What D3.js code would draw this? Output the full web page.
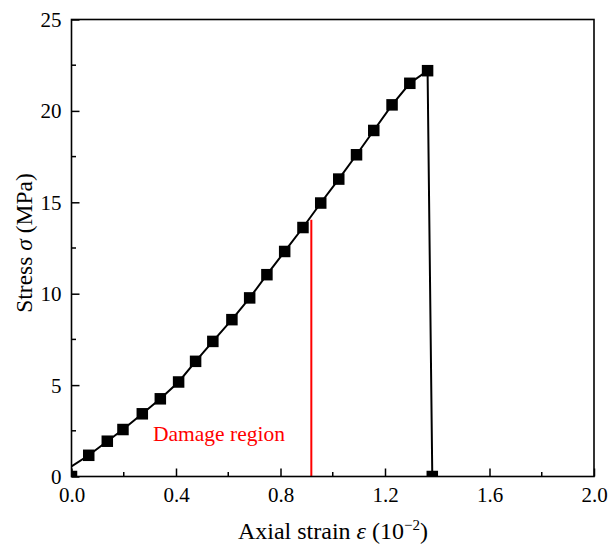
<!DOCTYPE html>
<html><head><meta charset="utf-8">
<script src="https://cdn.jsdelivr.net/npm/d3@7"></script>
<style>body{margin:0;background:#fff}svg{display:block}text{font-family:"Liberation Serif","Times New Roman",serif}</style>
</head><body><svg id="c" width="609" height="551"></svg>
<script>
// Data
const strain = [0, 0.066, 0.137, 0.197, 0.271, 0.340, 0.410, 0.475, 0.541, 0.614, 0.682, 0.748, 0.816, 0.886, 0.954, 1.023, 1.091, 1.157, 1.227, 1.295, 1.363, 1.381];
const stress = [0, 1.16, 1.93, 2.57, 3.43, 4.25, 5.17, 6.30, 7.39, 8.58, 9.77, 11.04, 12.31, 13.62, 14.96, 16.27, 17.60, 18.93, 20.33, 21.51, 22.20, 0];
const lineStart = [0, 0.55];
const damageStrain = 0.918, damageTop = 14.04;
const xTicks = [0, 0.4, 0.8, 1.2, 1.6, 2.0];
const yTicks = [0, 5, 10, 15, 20, 25];

const svg = d3.select("#c");
const L = 71.5, R = 594, T = 19.5, B = 476.5;
const x = d3.scaleLinear().domain([0, 2]).range([L, R]);
const y = d3.scaleLinear().domain([0, 25]).range([B, T]);

svg.append("defs").append("clipPath").attr("id","clip")
  .append("rect").attr("x",L).attr("y",T).attr("width",R-L).attr("height",B-T);

// red damage line
svg.append("line").attr("x1",x(damageStrain)).attr("x2",x(damageStrain))
  .attr("y1",y(damageTop)).attr("y2",y(0)).attr("stroke","#ff0000").attr("stroke-width",2);
svg.append("text").attr("x",153).attr("y",441).attr("fill","#ff0000")
  .attr("font-size",21.5).text("Damage region");

const pts = strain.map((s,i)=>[s, stress[i]]);
const linePts = [lineStart].concat(pts.slice(1));
const g = svg.append("g").attr("clip-path","url(#clip)");
g.append("path").datum(linePts)
  .attr("d", d3.line().x(d=>x(d[0])).y(d=>y(d[1])))
  .attr("fill","none").attr("stroke","#000").attr("stroke-width",2);
const ms = 11.5;
g.selectAll("rect.m").data(pts).enter().append("rect").attr("class","m")
  .attr("x",d=>x(d[0])-ms/2).attr("y",d=>y(d[1])-ms/2)
  .attr("width",ms).attr("height",ms).attr("fill","#000");

// axes (inward ticks)
const xAxis = d3.axisBottom(x).tickValues(xTicks).tickFormat(d3.format(".1f")).tickSizeInner(-8).tickSizeOuter(0);
const gx = svg.append("g").attr("transform",`translate(0,${B})`).call(xAxis);
const yAxis = d3.axisLeft(y).tickValues(yTicks).tickFormat(d3.format("d")).tickSizeInner(-8).tickSizeOuter(0);
const gy = svg.append("g").attr("transform",`translate(${L},0)`).call(yAxis);
[gx,gy].forEach(a=>{
  a.attr("font-size",null).attr("font-family",null);
  a.select(".domain").remove();
  a.selectAll("line").attr("stroke","#000").attr("stroke-width",1.5);
  a.selectAll("text").attr("font-size",21).attr("fill","#000");
});
gx.selectAll("text").attr("dy",null).attr("y",25.5);
gy.selectAll("text").attr("x",-10).attr("dy","0.33em");
// minor ticks
const xMinor = d3.range(0.2, 2, 0.4);
const yMinor = d3.range(2.5, 25, 5);
svg.append("g").selectAll("line").data(xMinor).enter().append("line")
  .attr("x1",d=>x(d)).attr("x2",d=>x(d)).attr("y1",B).attr("y2",B-4.5).attr("stroke","#000").attr("stroke-width",1.5);
svg.append("g").selectAll("line").data(yMinor).enter().append("line")
  .attr("x1",L).attr("x2",L+4.5).attr("y1",d=>y(d)).attr("y2",d=>y(d)).attr("stroke","#000").attr("stroke-width",1.5);

// frame
svg.append("rect").attr("x",L).attr("y",T).attr("width",R-L).attr("height",B-T)
  .attr("fill","none").attr("stroke","#000").attr("stroke-width",1.6);

// axis titles
const xt = svg.append("text").attr("x",333).attr("y",539).attr("text-anchor","middle").attr("font-size",24);
xt.append("tspan").text("Axial strain ");
xt.append("tspan").attr("font-style","italic").text("ε");
xt.append("tspan").text(" (10");
xt.append("tspan").attr("font-size",15).attr("dy",-9).text("−2");
xt.append("tspan").attr("dy",9).text(")");

const yt = svg.append("text").attr("transform",`translate(32,243) rotate(-90)`).attr("text-anchor","middle").attr("font-size",23.5);
yt.append("tspan").text("Stress ");
yt.append("tspan").attr("font-style","italic").text("σ");
yt.append("tspan").text(" (MPa)");
</script></body></html>
